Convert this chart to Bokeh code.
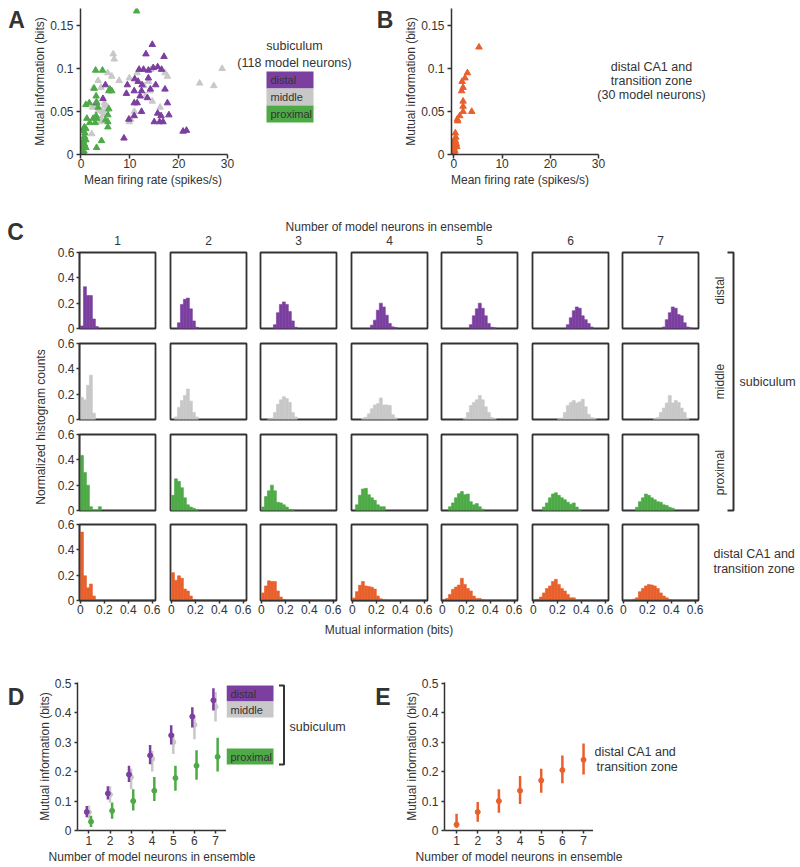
import numpy as np
from math import pi
from bokeh.plotting import figure
from bokeh.models import Range1d, FixedTicker, Label, ColumnDataSource
from bokeh.layouts import row, column
from bokeh.embed import file_html
from bokeh.resources import INLINE

# ---------------- data ----------------
# Panel A: subiculum model neurons (firing rate spikes/s, mutual information bits)
distal_rate = [14.6, 13.3, 17.0, 11.9, 12.8, 14.8, 15.7, 13.8, 16.5, 11.0, 11.7, 13.8, 9.5, 12.5, 5.0,
               10.9, 12.4, 14.2, 15.3, 17.2, 9.3, 12.1, 10.9, 11.5, 13.6, 3.1, 17.7, 12.4, 15.7, 10.9,
               16.4, 18.0, 15.0, 16.1, 16.8, 9.8, 20.9, 21.6, 8.8, 4.5]
distal_mi = [0.128, 0.117, 0.114, 0.099, 0.099, 0.101, 0.102, 0.098, 0.099, 0.088, 0.085, 0.089, 0.081, 0.081, 0.081,
             0.074, 0.074, 0.076, 0.081, 0.076, 0.071, 0.068, 0.060, 0.060, 0.066, 0.060, 0.060, 0.050, 0.048, 0.045,
             0.045, 0.046, 0.038, 0.038, 0.038, 0.041, 0.027, 0.028, 0.019, 0.065]
middle_rate = [6.6, 6.8, 28.9, 17.2, 17.7, 5.5, 6.3, 7.8, 9.9, 3.5, 4.1, 2.5, 24.3, 27.2, 14.3, 13.8, 14.1,
               13.2, 2.3, 3.5, 4.4, 4.9, 5.5, 16.2, 2.2, 4.1, 4.6, 10.2, 9.9, 10.9, 4.8, 3.9, 12.9, 14.6,
               5.2, 11.5, 3.0]
middle_mi = [0.117, 0.111, 0.100, 0.095, 0.091, 0.095, 0.091, 0.086, 0.089, 0.086, 0.078, 0.077, 0.083, 0.080,
             0.099, 0.085, 0.074, 0.068, 0.055, 0.051, 0.050, 0.057, 0.055, 0.055, 0.024, 0.042, 0.046, 0.041,
             0.038, 0.050, 0.060, 0.038, 0.080, 0.062, 0.052, 0.095, 0.058]
prox_rate = [11.4, 3.0, 4.4, 2.7, 5.9, 6.3, 5.7, 1.7, 3.1, 3.2, 3.5, 5.7, 5.5, 2.5, 3.1, 3.2, 5.0, 5.5, 2.9,
             5.5, 0.7, 1.0, 0.8, 0.7, 1.0, 0.5, 4.2, 0.7, 0.3, 3.2, 0.3, 0.1, 0.5, 0.0, 1.0, 1.8, 1.2, 0.4,
             0.6, 0.2, 1.0]
prox_mi = [0.167, 0.098, 0.098, 0.077, 0.076, 0.074, 0.074, 0.060, 0.068, 0.061, 0.055, 0.053, 0.046, 0.042,
           0.045, 0.042, 0.040, 0.038, 0.037, 0.032, 0.032, 0.030, 0.025, 0.021, 0.017, 0.016, 0.016, 0.012,
           0.010, 0.008, 0.008, 0.005, 0.002, 0.001, 0.008, 0.037, 0.042, 0.028, 0.004, 0.013, 0.058]
# Panel B: distal CA1 and transition zone
ca1_rate = [5.2, 2.8, 2.3, 1.7, 1.9, 1.6, 1.9, 1.9, 1.9, 3.7, 1.2, 0.7, 0.8, 0.3, 0.1, 0.3, 0.5, 0.2, 0.0,
            -0.1, 0.1, 0.0, 0.3, 0.05, -0.1, 0.4, 0.2, 0.0, 0.6, -0.05]
ca1_mi = [0.125, 0.095, 0.089, 0.085, 0.078, 0.074, 0.062, 0.056, 0.050, 0.050, 0.045, 0.041, 0.039, 0.025,
          0.017, 0.016, 0.012, 0.010, 0.008, 0.005, 0.002, 0.001, 0.014, 0.006, 0.003, 0.020, 0.004, 0.012,
          0.009, 0.000]

# Panel C: normalized histograms (bin width 0.025), (first bin index, heights) per ensemble size 1..7
bin_width = 0.025
hist_distal = [(0, [0.02, 0.33, 0.26, 0.26, 0.075, 0.015]),
               (2, [0.045, 0.19, 0.23, 0.24, 0.155, 0.06, 0.01]),
               (4, [0.03, 0.125, 0.19, 0.21, 0.19, 0.135, 0.06, 0.01]),
               (6, [0.026, 0.066, 0.145, 0.2, 0.17, 0.105, 0.04, 0.013, 0.008]),
               (9, [0.03, 0.1, 0.155, 0.2, 0.16, 0.1, 0.04, 0.01, 0.005]),
               (11, [0.03, 0.085, 0.14, 0.17, 0.16, 0.1, 0.07, 0.04, 0.012]),
               (13, [0.012, 0.07, 0.125, 0.17, 0.16, 0.11, 0.1, 0.045, 0.012, 0.005])]
hist_middle = [(0, [0.175, 0.155, 0.27, 0.35, 0.05]),
               (1, [0.02, 0.095, 0.15, 0.19, 0.24, 0.145, 0.055, 0.02]),
               (2, [0.005, 0.01, 0.055, 0.12, 0.155, 0.18, 0.165, 0.135, 0.055, 0.02]),
               (3, [0.01, 0.018, 0.045, 0.085, 0.115, 0.125, 0.17, 0.115, 0.115, 0.11, 0.037, 0.013]),
               (7, [0.01, 0.055, 0.11, 0.135, 0.155, 0.19, 0.155, 0.1, 0.055, 0.016, 0.008]),
               (8, [0.005, 0.01, 0.055, 0.11, 0.135, 0.15, 0.13, 0.14, 0.16, 0.1, 0.04, 0.015, 0.008]),
               (10, [0.008, 0.016, 0.055, 0.09, 0.13, 0.19, 0.13, 0.15, 0.135, 0.09, 0.055, 0.01])]
hist_proximal = [(0, [0.435, 0.3, 0.2, 0.03, 0.0, 0.0, 0.03]),
                 (0, [0.12, 0.25, 0.23, 0.18, 0.1, 0.045, 0.027, 0.018, 0.005]),
                 (0, [0.027, 0.11, 0.155, 0.2, 0.155, 0.065, 0.06, 0.045, 0.027, 0.01, 0.005]),
                 (1, [0.045, 0.12, 0.17, 0.175, 0.125, 0.1, 0.08, 0.045, 0.03, 0.03]),
                 (2, [0.03, 0.06, 0.1, 0.133, 0.15, 0.125, 0.13, 0.07, 0.045, 0.055, 0.03, 0.01]),
                 (3, [0.027, 0.06, 0.1, 0.13, 0.14, 0.12, 0.1, 0.085, 0.066, 0.05, 0.06, 0.027, 0.005]),
                 (4, [0.025, 0.07, 0.1, 0.13, 0.12, 0.1, 0.085, 0.07, 0.065, 0.045, 0.04, 0.025, 0.018])]
hist_ca1 = [(0, [0.54, 0.195, 0.1, 0.13, 0.035]),
            (0, [0.22, 0.16, 0.195, 0.175, 0.09, 0.075, 0.035, 0.008]),
            (0, [0.06, 0.115, 0.155, 0.15, 0.15, 0.075, 0.027, 0.008]),
            (0, [0.02, 0.07, 0.12, 0.15, 0.115, 0.11, 0.105, 0.09, 0.035, 0.013, 0.005]),
            (1, [0.016, 0.048, 0.088, 0.106, 0.122, 0.175, 0.127, 0.095, 0.075, 0.035, 0.016, 0.016, 0.005]),
            (0, [0.005, 0.01, 0.027, 0.06, 0.095, 0.115, 0.15, 0.167, 0.127, 0.095, 0.075, 0.048, 0.021, 0.021]),
            (3, [0.01, 0.021, 0.07, 0.095, 0.115, 0.127, 0.122, 0.115, 0.095, 0.06, 0.035, 0.021, 0.008])]

# Panels D, E: mean and range of mutual information vs ensemble size
ensemble = [1, 2, 3, 4, 5, 6, 7]
distal_mean = [0.063, 0.126, 0.19, 0.255, 0.323, 0.387, 0.442]
distal_lo = [0.045, 0.105, 0.165, 0.225, 0.292, 0.35, 0.407]
distal_hi = [0.083, 0.15, 0.22, 0.29, 0.357, 0.418, 0.483]
middle_mean = [0.062, 0.122, 0.181, 0.243, 0.30, 0.359, 0.42]
middle_lo = [0.04, 0.095, 0.14, 0.2, 0.26, 0.31, 0.37]
middle_hi = [0.085, 0.15, 0.21, 0.27, 0.33, 0.39, 0.47]
prox_mean = [0.03, 0.067, 0.1, 0.135, 0.178, 0.22, 0.25]
prox_lo = [0.012, 0.04, 0.068, 0.1, 0.135, 0.172, 0.2]
prox_hi = [0.05, 0.095, 0.14, 0.182, 0.22, 0.272, 0.315]
ca1_mean = [0.02, 0.063, 0.1, 0.135, 0.17, 0.205, 0.24]
ca1_lo = [0.009, 0.03, 0.06, 0.09, 0.128, 0.16, 0.19]
ca1_hi = [0.057, 0.097, 0.14, 0.185, 0.21, 0.255, 0.295]

row_names = ["distal", "middle", "proximal"]

# ---------------- style ----------------
FONT = "Liberation Sans"
TXT = "#333333"
AX = "#333333"
C_DIST = "#7B3FA0"
C_MID = "#C8C8C8"
C_PROX = "#4DAA47"
C_CA1 = "#E8602C"


def strip(x0, x1, y0, y1, bt=0, bb=0):
    """Annotation canvas whose data coordinates are page pixels (y downwards).
    bt/bb: top/bottom borders (matching neighbouring plots, whose frames are aligned)."""
    p = figure(width=x1 - x0, height=y1 - y0, x_range=Range1d(x0, x1),
               y_range=Range1d(y1 - bb, y0 + bt),
               x_axis_location=None, y_axis_location=None, toolbar_location=None,
               output_backend="svg", min_border_left=0, min_border_right=0,
               min_border_top=bt, min_border_bottom=bb, outline_line_color=None)
    p.grid.visible = False
    p.background_fill_color = "white"
    p.border_fill_color = "white"
    return p


def mk_label(x, y, s, size="12px", align="center", angle=0.0, bold=False):
    return Label(x=x, y=y, text=s, text_font=FONT, text_font_size=size, text_align=align,
                 text_baseline="middle", angle=angle, text_color=TXT,
                 text_font_style="bold" if bold else "normal")


def txt(p, x, y, s, **kw):
    p.add_layout(mk_label(x, y, s, **kw))


def style_axes(p, tick_out=4):
    for ax in p.axis:
        ax.axis_line_color = AX
        ax.axis_line_width = 1.5
        ax.major_tick_line_color = AX
        ax.major_tick_line_width = 1.5
        ax.major_tick_out = tick_out
        ax.major_tick_in = 0
        ax.minor_tick_line_color = None
        ax.major_label_text_font = FONT
        ax.major_label_text_font_size = "12px"
        ax.major_label_text_color = TXT
        ax.axis_label_text_font = FONT
        ax.axis_label_text_font_size = "12px"
        ax.axis_label_text_font_style = "normal"
        ax.axis_label_text_color = TXT
    p.grid.visible = False


def legend_boxes(p, left, right, tops, h, names, colors):
    p.quad(left=left, right=right, top=[t for t in tops], bottom=[t + h for t in tops],
           fill_color=colors, line_color=None)
    for t, n in zip(tops, names):
        txt(p, left + 4, t + h / 2, n, size="11px", align="left")


def bracket(p, x, y0, y1, tick):
    p.line(x=[x - tick, x, x, x - tick], y=[y0, y0, y1, y1], line_color=AX, line_width=2)


# ---------------- top row: A and B ----------------
TOP_Y0, TOP_Y1, TOPFOOT_Y1 = 0, 172, 195
SC_FW, SC_FH, SC_TOP, SC_BOT = 147, 146, 8, 18
sA0 = strip(0, 30, TOP_Y0, TOP_Y1, SC_TOP, SC_BOT)
txt(sA0, 16, 19, "A", size="23px", bold=True)


def scatter_fig(x_start, x_end, frame_w, left_border, right_border):
    p = figure(frame_width=frame_w, frame_height=SC_FH, min_border_left=left_border,
               min_border_right=right_border, min_border_top=SC_TOP, min_border_bottom=SC_BOT,
               x_range=Range1d(x_start, x_end), y_range=Range1d(0, 0.17),
               toolbar_location=None, output_backend="svg", outline_line_color=None)
    p.xaxis.ticker = FixedTicker(ticks=[0, 10, 20, 30])
    p.xaxis.bounds = (x_start, 30)
    p.yaxis.ticker = FixedTicker(ticks=[0, 0.05, 0.1, 0.15])
    p.yaxis.major_label_overrides = {0: "0", 0.05: "0.05", 0.1: "0.1", 0.15: "0.15"}
    p.yaxis.axis_label = "Mutual information (bits)"
    style_axes(p)
    p.xaxis.major_label_standoff = 0
    p.yaxis.major_label_standoff = 3
    p.yaxis.axis_label_standoff = 0
    return p


A_X0, A_LEFT = -0.1, 49
figA = scatter_fig(A_X0, 30, SC_FW, A_LEFT, 8)
figA.scatter(middle_rate, middle_mi, marker="triangle", size=6.5, color=C_MID)
figA.scatter(distal_rate, distal_mi, marker="triangle", size=6.5, color=C_DIST)
figA.scatter(prox_rate, prox_mi, marker="triangle", size=6.5, color=C_PROX)

sA = strip(234, 400, TOP_Y0, TOP_Y1, SC_TOP, SC_BOT)
txt(sA, 293, 45, "subiculum", size="12.5px")
txt(sA, 293, 62, "(118 model neurons)", size="12.5px")
legend_boxes(sA, 265, 312, [71, 88, 105], 17, row_names, [C_DIST, C_MID, C_PROX])
txt(sA, 383.5, 19, "B", size="23px", bold=True)

# panel B: the frame is extended to the page edge so that its annotation fits; the axis is bounded at 30
B_X0, B_LEFT = -0.5, 46
B_FW = 800 - 400 - B_LEFT - 1
b_scale = (30 - B_X0) / SC_FW
figB = scatter_fig(B_X0, B_X0 + B_FW * b_scale, B_FW, B_LEFT, 1)
figB.scatter(ca1_rate, ca1_mi, marker="triangle", size=6.5, color=C_CA1)


def b_label(px, py, s):
    x = B_X0 + (px - (400 + B_LEFT)) * b_scale
    y = (SC_TOP + SC_FH - py) * 0.17 / SC_FH
    figB.add_layout(mk_label(x, y, s, size="12.5px"))


b_label(646, 66, "distal CA1 and")
b_label(646, 80.5, "transition zone")
b_label(646, 94.5, "(30 model neurons)")

top_row = row(sA0, figA, sA, figB)
top_foot = strip(0, 800, TOP_Y1, TOPFOOT_Y1)
txt(top_foot, 30 + A_LEFT + SC_FW / 2, 179, "Mean firing rate (spikes/s)")
txt(top_foot, 400 + B_LEFT + SC_FW / 2, 179, "Mean firing rate (spikes/s)")

# ---------------- panel C ----------------
C_Y0, GRID_Y0, GRID_Y1, FOOT_Y1 = TOPFOOT_Y1, 247, 620, 638
frame_left = [79, 170, 260, 351, 441, 532, 622]
frame_top = [252, 343, 434, 524]
col_borders = [(27, 7), (8, 7), (7, 7), (8, 7), (7, 7), (8, 7), (7, 7)]
row_borders = [(5, 10), (5, 10), (5, 9), (5, 20)]
FR = 76

header = strip(0, 800, C_Y0, GRID_Y0)
txt(header, 15, 231.5, "C", size="23px", bold=True)
txt(header, 388.5, 226, "Number of model neurons in ensemble", size="12px")
for n, fl in zip(ensemble, frame_left):
    txt(header, fl + FR / 2, 240, str(n), size="12px")

left_c = strip(0, 52, GRID_Y0, GRID_Y1)
txt(left_c, 40, 426.5, "Normalized histogram counts", size="12px", angle=pi / 2)

all_hists = [hist_distal, hist_middle, hist_proximal, hist_ca1]
row_colors = [C_DIST, C_MID, C_PROX, C_CA1]
grid_rows = []
for r in range(4):
    cells = []
    for c in range(7):
        bl, br = col_borders[c]
        bt, bb = row_borders[r]
        p = figure(frame_width=FR, frame_height=FR, min_border_left=bl, min_border_right=br,
                   min_border_top=bt, min_border_bottom=bb,
                   x_range=Range1d(-0.008, 0.628), y_range=Range1d(0, 0.6),
                   x_axis_location="below" if r == 3 else None,
                   y_axis_location="left" if c == 0 else None,
                   toolbar_location=None, output_backend="svg",
                   outline_line_color=AX, outline_line_width=1.8)
        start, heights = all_hists[r][c]
        lefts = [(start + i) * bin_width for i in range(len(heights))]
        rights = [(start + i + 1) * bin_width for i in range(len(heights))]
        p.quad(left=lefts, right=rights, top=heights, bottom=0, fill_color=row_colors[r],
               line_color=row_colors[r], line_width=0.6)
        style_axes(p, tick_out=3)
        if r == 3:
            p.xaxis.ticker = FixedTicker(ticks=[0, 0.2, 0.4, 0.6])
            p.xaxis.major_label_overrides = {0: "0", 0.2: "0.2", 0.4: "0.4", 0.6: "0.6"}
            p.xaxis.major_label_standoff = 1
        if c == 0:
            p.yaxis.ticker = FixedTicker(ticks=[0, 0.2, 0.4, 0.6])
            p.yaxis.major_label_overrides = {0: "0", 0.2: "0.2", 0.4: "0.4", 0.6: "0.6"}
            p.yaxis.major_label_standoff = 2
        cells.append(p)
    grid_rows.append(row(*cells))
grid = column(*grid_rows)

right_c = strip(705, 800, GRID_Y0, GRID_Y1)
for r, name in enumerate(row_names):
    txt(right_c, 719.5, frame_top[r] + FR / 2, name, size="12px", angle=pi / 2)
bracket(right_c, 733, frame_top[0], frame_top[2] + FR, 6)
txt(right_c, 739, (frame_top[0] + frame_top[2] + FR) / 2, "subiculum", size="12.5px", align="left")
txt(right_c, 713, 553, "distal CA1 and", size="12.5px", align="left")
txt(right_c, 713, 568, "transition zone", size="12.5px", align="left")

footer = strip(0, 800, GRID_Y1, FOOT_Y1)
txt(footer, 388.5, 629, "Mutual information (bits)", size="12px")

panel_c = column(header, row(left_c, grid, right_c), footer)

# ---------------- bottom row: D and E ----------------
BOT_Y0, BOT_Y1, END_Y = FOOT_Y1, 849, 866
EN_FW, EN_FH, EN_TOP, EN_BOT = 149, 148, 44, 19
sD0 = strip(0, 30, BOT_Y0, BOT_Y1, EN_TOP, EN_BOT)
txt(sD0, 15.5, 696, "D", size="23px", bold=True)


def ens_fig(x_start, x_end, left_border):
    p = figure(frame_width=EN_FW, frame_height=EN_FH, min_border_left=left_border, min_border_right=0,
               min_border_top=EN_TOP, min_border_bottom=EN_BOT,
               x_range=Range1d(x_start, x_end), y_range=Range1d(0, 0.5024),
               toolbar_location=None, output_backend="svg", outline_line_color=None)
    p.xaxis.ticker = FixedTicker(ticks=ensemble)
    p.yaxis.ticker = FixedTicker(ticks=[0, 0.1, 0.2, 0.3, 0.4, 0.5])
    p.yaxis.major_label_overrides = {0: "0"}
    p.yaxis.axis_label = "Mutual information (bits)"
    style_axes(p, tick_out=3)
    p.xaxis.major_label_standoff = 2
    p.yaxis.major_label_standoff = 3
    p.yaxis.axis_label_standoff = 0
    return p


def err_series(p, offset, mean, lo, hi, color):
    x = [n + offset for n in ensemble]
    src = ColumnDataSource(dict(x=x, mean=mean, lo=lo, hi=hi))
    p.segment(x0="x", y0="lo", x1="x", y1="hi", source=src, line_color=color, line_width=2.5)
    p.scatter("x", "mean", source=src, marker="circle", size=5, color=color)


D_LEFT, E_LEFT = 47, 44
figD = ens_fig(0.46, 7.52, D_LEFT)
err_series(figD, 0.0, middle_mean, middle_lo, middle_hi, C_MID)
err_series(figD, -0.1, distal_mean, distal_lo, distal_hi, C_DIST)
err_series(figD, 0.1, prox_mean, prox_lo, prox_hi, C_PROX)

sD = strip(226, 400, BOT_Y0, BOT_Y1, EN_TOP, EN_BOT)
legend_boxes(sD, 226, 273, [685, 701], 16, row_names[:2], [C_DIST, C_MID])
legend_boxes(sD, 226, 273, [748], 16, row_names[2:], [C_PROX])
bracket(sD, 283.5, 685, 764, 5)
txt(sD, 289, 726, "subiculum", size="12.5px", align="left")
txt(sD, 382.5, 696, "E", size="23px", bold=True)

figE = ens_fig(0.43, 7.47, E_LEFT)
err_series(figE, 0.0, ca1_mean, ca1_lo, ca1_hi, C_CA1)

sE = strip(593, 800, BOT_Y0, BOT_Y1, EN_TOP, EN_BOT)
txt(sE, 594, 751, "distal CA1 and", size="12.5px", align="left")
txt(sE, 596, 766, "transition zone", size="12.5px", align="left")

bottom_row = row(sD0, figD, sD, figE, sE)

foot2 = strip(0, 800, BOT_Y1, END_Y)
txt(foot2, 30 + D_LEFT + EN_FW / 2, 856, "Number of model neurons in ensemble", size="12px")
txt(foot2, 400 + E_LEFT + EN_FW / 2, 856, "Number of model neurons in ensemble", size="12px")

layout = column(top_row, top_foot, panel_c, bottom_row, foot2)
open("out.html", "w").write(file_html(layout, INLINE))
